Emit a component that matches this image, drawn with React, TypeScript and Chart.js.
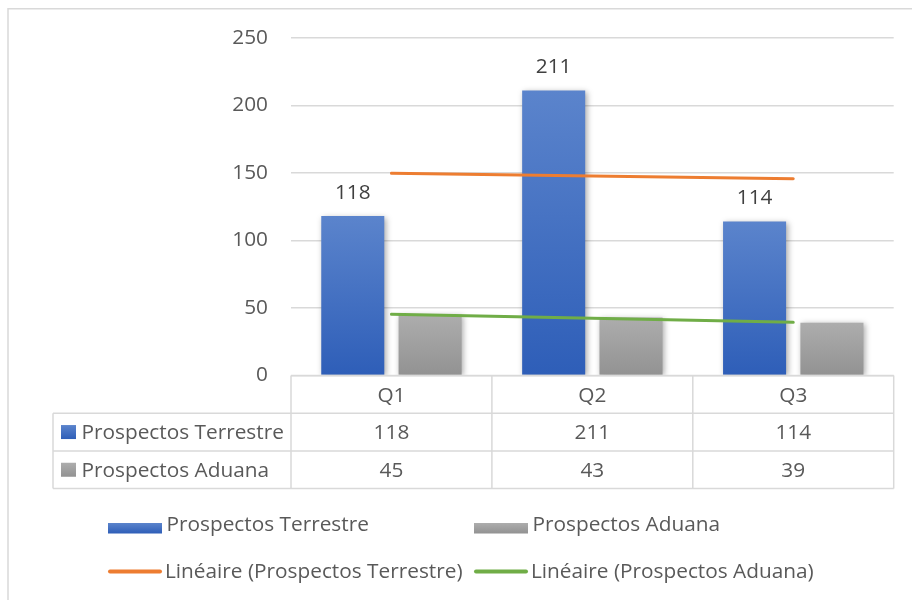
import React, { useEffect, useRef } from 'react';
import { Chart, registerables } from 'chart.js';

Chart.register(...registerables);

const categories = ['Q1', 'Q2', 'Q3'];
const terrestre = [118, 211, 114];
const aduana = [45, 43, 39];
const trendTerrestre = [149.67, 147.67, 145.67];
const trendAduana = [45.33, 42.33, 39.33];
const yTicks = [0, 50, 100, 150, 200, 250];
const seriesNames = ['Prospectos Terrestre', 'Prospectos Aduana'];
const trendNames = ['Linéaire (Prospectos Terrestre)', 'Linéaire (Prospectos Aduana)'];

const FONT_FAMILY = '"Open Sans", "Noto Sans", sans-serif';
const FONT_SIZE = 20.8;
const FONT = `${FONT_SIZE}px ${FONT_FAMILY}`;
const TEXT = '#595959';
const LINE = '#d9d9d9';
const BLUE_TOP = '#5b84cc';
const BLUE_BOT = '#2e5eb8';
const GRAY_TOP = '#adadad';
const GRAY_BOT = '#929292';
const ORANGE = '#ed7d31';
const GREEN = '#70ad47';

function barGradient(top: string, bottom: string) {
  return (ctx: any) => {
    const chart = ctx.chart;
    if (!chart.chartArea || ctx.type !== 'data') return top;
    const y = chart.scales.y;
    const yt = y.getPixelForValue(ctx.raw);
    const yb = y.getPixelForValue(0);
    const g = chart.ctx.createLinearGradient(0, yt, 0, yb);
    g.addColorStop(0, top);
    g.addColorStop(1, bottom);
    return g;
  };
}

function vGrad(c: CanvasRenderingContext2D, y0: number, y1: number, top: string, bottom: string) {
  const g = c.createLinearGradient(0, y0, 0, y1);
  g.addColorStop(0, top);
  g.addColorStop(1, bottom);
  return g;
}

const decor = {
  id: 'decor',
  beforeDatasetDraw(chart: any, args: any) {
    if (args.meta.type === 'bar') {
      const c = chart.ctx;
      c.save();
      c.shadowColor = 'rgba(0,0,0,0.35)';
      c.shadowBlur = 6;
      c.shadowOffsetX = 1.5;
      c.shadowOffsetY = 1.5;
    }
  },
  afterDatasetDraw(chart: any, args: any) {
    if (args.meta.type === 'bar') chart.ctx.restore();
  },
  afterDraw(chart: any) {
    const c: CanvasRenderingContext2D = chart.ctx;
    const area = chart.chartArea;
    const xs = chart.scales.x;
    c.save();

    // outer frame
    c.strokeStyle = LINE;
    c.lineWidth = 1.5;
    c.strokeRect(8, 8.75, 1000, 1000);

    // data labels
    c.font = FONT;
    c.fillStyle = '#404040';
    c.textAlign = 'center';
    c.textBaseline = 'alphabetic';
    const meta0 = chart.getDatasetMeta(0);
    meta0.data.forEach((el: any, i: number) => {
      c.fillText(String(terrestre[i]), el.x, el.y - 17.5);
    });

    // data table
    const n = categories.length;
    const cw = (area.right - area.left) / n;
    const rh = 37.7;
    const tableLeft = 53;
    const rows = [area.bottom, area.bottom + rh, area.bottom + 2 * rh, area.bottom + 3 * rh];
    const line = (x0: number, y0: number, x1: number, y1: number) => {
      c.beginPath();
      c.moveTo(x0, y0);
      c.lineTo(x1, y1);
      c.stroke();
    };
    c.strokeStyle = LINE;
    c.lineWidth = 1.5;
    line(area.left, rows[0], area.right, rows[0]);
    for (let r = 1; r <= 3; r++) line(tableLeft, rows[r], area.right, rows[r]);
    for (let i = 0; i <= n; i++) {
      const x = area.left + i * cw;
      line(x, rows[0], x, rows[3]);
    }
    line(tableLeft, rows[1], tableLeft, rows[3]);

    c.fillStyle = TEXT;
    c.font = FONT;
    c.textAlign = 'center';
    const mid = (r: number) => (rows[r] + rows[r + 1]) / 2 + 7.3;
    categories.forEach((cat, i) => c.fillText(cat, xs.getPixelForValue(i), mid(0)));
    terrestre.forEach((v, i) => c.fillText(String(v), xs.getPixelForValue(i), mid(1)));
    aduana.forEach((v, i) => c.fillText(String(v), xs.getPixelForValue(i), mid(2)));

    c.textAlign = 'left';
    const keyCols = [[BLUE_TOP, BLUE_BOT], [GRAY_TOP, GRAY_BOT]];
    seriesNames.forEach((name, k) => {
      const cy = (rows[k + 1] + rows[k + 2]) / 2;
      c.fillStyle = vGrad(c, cy - 7, cy + 7, keyCols[k][0], keyCols[k][1]);
      c.fillRect(61, cy - 7, 15, 14);
      c.fillStyle = TEXT;
      c.fillText(name, 81.5, mid(k + 1));
    });

    // legend
    const legX = [108, 474];
    const swW = 54;
    seriesNames.forEach((name, k) => {
      const x = legX[k];
      c.fillStyle = vGrad(c, 523, 533.5, keyCols[k][0], keyCols[k][1]);
      c.fillRect(x, 523, swW, 10.5);
      c.fillStyle = TEXT;
      c.fillText(name, x + swW + 4.5, 531);
    });
    const trendCols = [ORANGE, GREEN];
    trendNames.forEach((name, k) => {
      const x = legX[k];
      c.strokeStyle = trendCols[k];
      c.lineWidth = 4;
      c.lineCap = 'round';
      line(x + 2, 571.5, x + swW - 2, 571.5);
      c.fillStyle = TEXT;
      c.fillText(name, x + swW + 3, 578);
    });

    c.restore();
  },
};

export default function App() {
  const ref = useRef<HTMLCanvasElement | null>(null);
  useEffect(() => {
    if (!ref.current) return;
    const chart = new Chart(ref.current, {
      type: 'bar',
      data: {
        labels: categories,
        datasets: [
          {
            type: 'bar',
            label: seriesNames[0],
            data: terrestre,
            backgroundColor: barGradient(BLUE_TOP, BLUE_BOT),
            borderWidth: 0,
            categoryPercentage: 0.77,
            barPercentage: 0.815,
            order: 2,
          },
          {
            type: 'bar',
            label: seriesNames[1],
            data: aduana,
            backgroundColor: barGradient(GRAY_TOP, GRAY_BOT),
            borderWidth: 0,
            categoryPercentage: 0.77,
            barPercentage: 0.815,
            order: 2,
          },
          {
            type: 'line',
            label: trendNames[0],
            data: trendTerrestre,
            borderColor: ORANGE,
            borderWidth: 3,
            pointRadius: 0,
            borderCapStyle: 'round',
            fill: false,
            order: 1,
          },
          {
            type: 'line',
            label: trendNames[1],
            data: trendAduana,
            borderColor: GREEN,
            borderWidth: 3,
            pointRadius: 0,
            borderCapStyle: 'round',
            fill: false,
            order: 1,
          },
        ],
      },
      options: {
        responsive: false,
        animation: false,
        layout: { padding: { left: 0, right: 18.3, top: 37.7, bottom: 224.5 } },
        plugins: { legend: { display: false }, tooltip: { enabled: false } },
        scales: {
          x: { display: false },
          y: {
            min: yTicks[0],
            max: yTicks[yTicks.length - 1],
            ticks: {
              stepSize: yTicks[1] - yTicks[0],
              color: TEXT,
              padding: 23,
              font: { family: FONT_FAMILY, size: FONT_SIZE },
            },
            grid: { color: LINE, lineWidth: 1.5, drawTicks: false },
            border: { display: false },
            afterFit: (scale: any) => {
              scale.width = 291;
            },
          },
        },
      },
      plugins: [decor],
    } as any);
    return () => chart.destroy();
  }, []);
  return (
    <div style={{ position: 'fixed', left: 0, top: 0, width: 912, height: 600, background: '#fff' }}>
      <canvas ref={ref} width={912} height={600} style={{ width: 912, height: 600, display: 'block' }} />
    </div>
  );
}
